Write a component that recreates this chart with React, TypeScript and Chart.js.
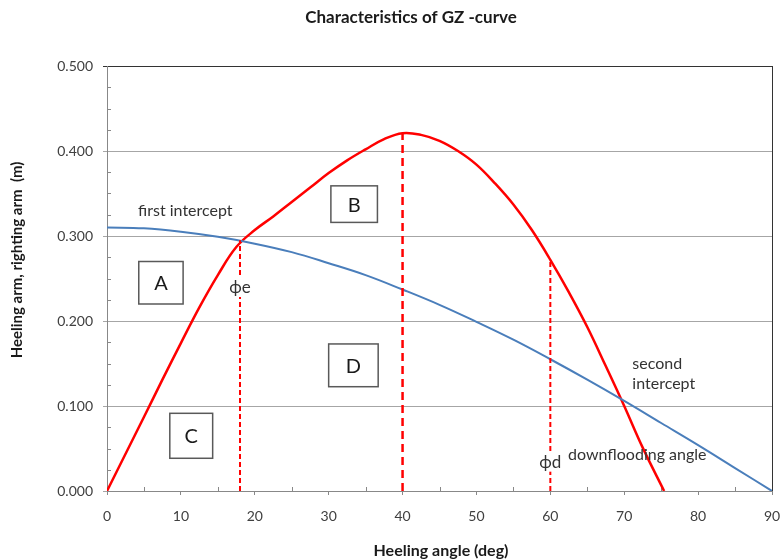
import React, { useEffect, useRef } from 'react';
import { Chart, registerables } from 'chart.js';

Chart.register(...registerables);

// ---- data ----
const rightingAngles = [0, 2.5, 5, 7.5, 10, 12.5, 15, 17.5, 20, 22.5, 25, 27.5, 30, 32.5, 35, 37.5, 40, 42.5, 45, 47.5, 50, 52.5, 55, 57.5, 60, 62.5, 65, 67.5, 70, 72.5, 75.4];
const rightingGZ = [0, 0.0435, 0.087, 0.131, 0.174, 0.216, 0.254, 0.287, 0.307, 0.323, 0.340, 0.357, 0.374, 0.389, 0.402, 0.414, 0.421, 0.419, 0.412, 0.400, 0.384, 0.362, 0.337, 0.307, 0.272, 0.234, 0.193, 0.147, 0.100, 0.051, 0];

const heelingAngles = [0, 5, 10, 15, 20, 25, 30, 35, 40, 45, 50, 55, 60, 65, 70, 75, 80, 85, 90];
const heelingGZ = [0.310, 0.309, 0.305, 0.299, 0.291, 0.281, 0.268, 0.254, 0.237, 0.219, 0.199, 0.178, 0.155, 0.131, 0.106, 0.080, 0.054, 0.027, 0];

const xTickValues = [0, 10, 20, 30, 40, 50, 60, 70, 80, 90];
const yTickValues = [0, 0.1, 0.2, 0.3, 0.4, 0.5];

// marker angles (deg) and GZ at their tops
const phiE = 18;
const phiEGZ = 0.295;
const phiMax = 40;
const phiMaxGZ = 0.421;
const phiD = 60;
const phiDGZ = 0.272;

// annotation boxes (in data units)
const boxLabels = ['A', 'B', 'C', 'D'];
const boxX0 = [4.3, 30.3, 8.5, 30.0];
const boxX1 = [10.3, 36.6, 14.3, 36.7];
const boxY0 = [0.220, 0.316, 0.0385, 0.1227];
const boxY1 = [0.270, 0.359, 0.0914, 0.173];

const FONT = 'Lato, "Open Sans", "Liberation Sans", sans-serif';

const decorPlugin = {
  id: 'decor',
  beforeDatasetsDraw(chart: any) {
    const { ctx, chartArea, scales } = chart;
    const xs = scales.x;
    const ys = scales.y;
    ctx.save();
    // right border
    ctx.strokeStyle = '#333333';
    ctx.lineWidth = 1;
    ctx.beginPath();
    ctx.moveTo(chartArea.right + 0.5, chartArea.top);
    ctx.lineTo(chartArea.right + 0.5, chartArea.bottom);
    ctx.stroke();
    // minor ticks
    ctx.strokeStyle = '#888888';
    ctx.beginPath();
    for (let v = 5; v < 90; v += 10) {
      const px = Math.round(xs.getPixelForValue(v)) + 0.5;
      ctx.moveTo(px, chartArea.bottom);
      ctx.lineTo(px, chartArea.bottom - 4);
    }
    for (let i = 1; i < 20; i++) {
      if (i % 4 === 0) continue;
      const py = Math.round(ys.getPixelForValue(i * 0.025)) + 0.5;
      ctx.moveTo(chartArea.left, py);
      ctx.lineTo(chartArea.left + 4, py);
    }
    ctx.stroke();
    ctx.restore();
  },
  afterDatasetsDraw(chart: any) {
    const { ctx, scales } = chart;
    const xs = scales.x;
    const ys = scales.y;
    ctx.save();
    // boxes
    for (let i = 0; i < boxLabels.length; i++) {
      const l = xs.getPixelForValue(boxX0[i]);
      const r = xs.getPixelForValue(boxX1[i]);
      const t = ys.getPixelForValue(boxY1[i]);
      const b = ys.getPixelForValue(boxY0[i]);
      ctx.fillStyle = '#ffffff';
      ctx.fillRect(l, t, r - l, b - t);
      ctx.strokeStyle = '#595959';
      ctx.lineWidth = 1.5;
      ctx.strokeRect(l, t, r - l, b - t);
      ctx.fillStyle = '#1a1a1a';
      ctx.font = `20px ${FONT}`;
      ctx.textAlign = 'center';
      ctx.textBaseline = 'middle';
      ctx.fillText(boxLabels[i], (l + r) / 2, (t + b) / 2 + 1);
    }
    // text labels
    ctx.font = `16px ${FONT}`;
    ctx.fillStyle = '#333333';
    ctx.textAlign = 'left';
    ctx.textBaseline = 'middle';
    ctx.fillText('first intercept', xs.getPixelForValue(4.2), ys.getPixelForValue(0.330));
    ctx.fillText('second', xs.getPixelForValue(71.1), ys.getPixelForValue(0.150));
    ctx.fillText('intercept', xs.getPixelForValue(71.1), ys.getPixelForValue(0.1255));
    ctx.fillText('downflooding angle', xs.getPixelForValue(62.4), ys.getPixelForValue(0.0424));

    // phi labels with white backing
    ctx.font = `17px ${FONT}`;
    ctx.textAlign = 'center';
    const phiLabels: [string, number, number][] = [
      ['\u03D5e', phiE, 0.240],
      ['\u03D5d', phiD, 0.0345],
    ];
    for (const [txt, a, g] of phiLabels) {
      const px = xs.getPixelForValue(a);
      const py = ys.getPixelForValue(g);
      const w = ctx.measureText(txt).width;
      ctx.fillStyle = '#ffffff';
      ctx.fillRect(px - w / 2 - 1, py - 10, w + 2, 20);
      ctx.fillStyle = '#333333';
      ctx.fillText(txt, px, py + 1);
    }
    ctx.restore();
  },
  afterDraw(chart: any) {
    const { ctx } = chart;
    ctx.save();
    ctx.fillStyle = '#1a1a1a';
    ctx.textAlign = 'center';
    ctx.textBaseline = 'middle';
    ctx.font = `bold 17px ${FONT}`;
    ctx.fillText('Characteristics of GZ -curve', 411, 18);
    ctx.font = `bold 16px ${FONT}`;
    ctx.fillText('Heeling angle (deg)', 441, 551);
    ctx.font = `bold 15px ${FONT}`;
    ctx.translate(17, 260);
    ctx.rotate(-Math.PI / 2);
    ctx.fillText('Heeling arm, righting arm  (m)', 0, 0);
    ctx.restore();
  },
};

export default function App() {
  const ref = useRef<HTMLCanvasElement | null>(null);

  useEffect(() => {
    if (!ref.current) return;
    const chart = new Chart(ref.current, {
      type: 'line',
      data: {
        datasets: [
          {
            label: 'phi e',
            data: [{ x: phiE, y: 0 }, { x: phiE, y: phiEGZ }],
            borderColor: '#ff0000',
            borderWidth: 2,
            borderDash: [5, 3],
            pointRadius: 0,
            tension: 0,
          },
          {
            label: 'phi max',
            data: [{ x: phiMax, y: 0 }, { x: phiMax, y: phiMaxGZ }],
            borderColor: '#ff0000',
            borderWidth: 2.5,
            borderDash: [8, 5],
            pointRadius: 0,
            tension: 0,
          },
          {
            label: 'phi d',
            data: [{ x: phiD, y: 0 }, { x: phiD, y: phiDGZ }],
            borderColor: '#ff0000',
            borderWidth: 2,
            borderDash: [5, 3],
            pointRadius: 0,
            tension: 0,
          },
          {
            label: 'Heeling arm',
            data: heelingAngles.map((a, i) => ({ x: a, y: heelingGZ[i] })),
            borderColor: '#4a7ebb',
            borderWidth: 2,
            pointRadius: 0,
            tension: 0.4,
          },
          {
            label: 'Righting arm',
            data: rightingAngles.map((a, i) => ({ x: a, y: rightingGZ[i] })),
            borderColor: '#ff0000',
            borderWidth: 2.5,
            pointRadius: 0,
            tension: 0.4,
          },
        ],
      },
      options: {
        responsive: false,
        animation: false,
        layout: { padding: { left: 0, right: 11, top: 66, bottom: 0 } },
        plugins: {
          legend: { display: false },
          tooltip: { enabled: false },
          title: { display: false },
        },
        scales: {
          x: {
            type: 'linear',
            min: 0,
            max: 90,
            afterBuildTicks: (s: any) => {
              s.ticks = xTickValues.map((v) => ({ value: v }));
            },
            afterFit: (s: any) => {
              s.height = 69;
              s.paddingLeft = 0;
              s.paddingRight = 0;
            },
            ticks: {
              color: '#404040',
              font: { family: FONT, size: 14 },
              padding: 13,
              maxRotation: 0,
              autoSkip: false,
            },
            grid: {
              drawOnChartArea: false,
              drawTicks: true,
              tickLength: 4,
              color: '#888888',
            },
            border: { color: '#888888', width: 1 },
          },
          y: {
            type: 'linear',
            min: 0,
            max: 0.5,
            afterBuildTicks: (s: any) => {
              s.ticks = yTickValues.map((v) => ({ value: v }));
            },
            afterFit: (s: any) => {
              s.width = 107;
              s.paddingTop = 0;
              s.paddingBottom = 0;
            },
            ticks: {
              color: '#404040',
              font: { family: FONT, size: 14 },
              padding: 10,
              callback: (v: any) => Number(v).toFixed(3),
            },
            grid: {
              drawTicks: true,
              tickLength: 4,
              color: (c: any) => (c.tick && Math.abs(c.tick.value - 0.5) < 1e-9 ? '#333333' : '#a6a6a6'),
              lineWidth: 1,
            },
            border: { color: '#888888', width: 1 },
          },
        },
      },
      plugins: [decorPlugin],
    } as any);
    return () => chart.destroy();
  }, []);

  return (
    <div style={{ position: 'fixed', left: 0, top: 0, width: 783, height: 560, background: '#ffffff' }}>
      <canvas ref={ref} width={783} height={560} style={{ width: 783, height: 560 }} />
    </div>
  );
}
